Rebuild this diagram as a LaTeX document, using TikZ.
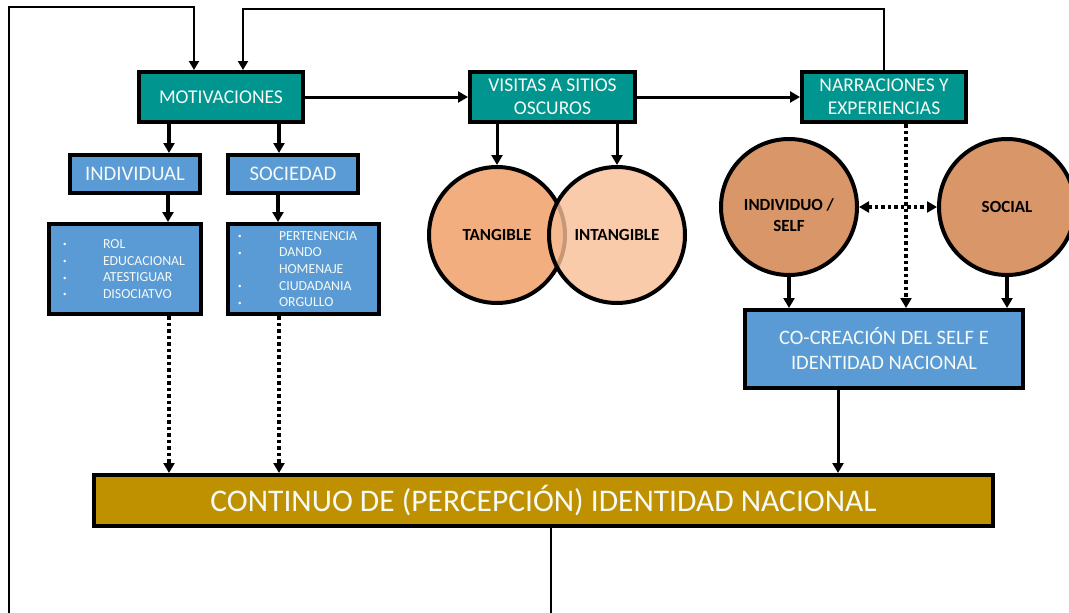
\documentclass[tikz,border=0pt]{standalone}
\usepackage{fontspec}
\setmainfont{Carlito}
\usetikzlibrary{arrows.meta}
\definecolor{tealbox}{RGB}{0,150,143}
\definecolor{bluebox}{RGB}{91,155,213}
\definecolor{goldbox}{RGB}{191,144,0}
\definecolor{tanfill}{RGB}{243,174,127}
\definecolor{intfill}{RGB}{247,190,150}
\definecolor{selffill}{RGB}{217,150,104}
\definecolor{boxtext}{RGB}{245,250,245}
\newcommand{\lbul}{\raisebox{1.5pt}{\fontsize{7}{7}\selectfont •}}
\begin{document}
\begin{tikzpicture}[x=1pt,y=-1pt,
  box/.style={draw=black,line width=4pt,text=boxtext,align=center,inner sep=0pt,
    font=\fontsize{19.5}{23}\selectfont},
  tealb/.style={box,fill=tealbox},
  blueb/.style={box,fill=bluebox},
  listb/.style={draw=black,line width=4pt,fill=bluebox,text=boxtext,align=left,inner sep=0pt,
    font=\fontsize{13.8}{16.7}\selectfont},
  circfont/.style={font=\bfseries\fontsize{17}{21}\selectfont},
  circ/.style={circle,draw=black,line width=4pt,inner sep=0pt,minimum size=136pt,
    circfont,align=center},
  arr/.style={-{Triangle[width=11pt,length=10pt]},line width=3.5pt},
  marr/.style={-{Triangle[width=11pt,length=10pt]},line width=3pt},
  thinarr/.style={-{Triangle[width=10pt,length=9pt]},line width=2.3pt},
  dotarr/.style={-{Triangle[width=11pt,length=10pt]},line width=4pt,dash pattern=on 3.5pt off 3pt},
  dotboth/.style={{Triangle[width=11pt,length=10pt]}-{Triangle[width=11pt,length=10pt]},line width=4pt,dash pattern=on 3.5pt off 3pt}
]
\useasboundingbox (0,0) rectangle (1069,613);
\clip (0,0) rectangle (1069,613);

% top boxes
\node[tealb,minimum width=164pt,minimum height=50pt] (mot) at (221,97) {MOTIVACIONES};
\node[tealb,minimum width=165pt,minimum height=50pt] (vis) at (552.5,97) {VISITAS A SITIOS\\OSCUROS};
\node[tealb,minimum width=164pt,minimum height=50pt] (nar) at (884,97) {NARRACIONES Y\\EXPERIENCIAS};

% second row
\node[blueb,minimum width=130pt,minimum height=38pt,font=\fontsize{20.7}{23}\selectfont] (ind) at (135,174) {INDIVIDUAL};
\node[blueb,minimum width=130pt,minimum height=38pt,font=\fontsize{20.7}{23}\selectfont] (soc) at (293,174) {SOCIEDAD};

% lists
\node[listb,minimum width=152pt,minimum height=90pt,text width=152pt] (indl) at (125,269)
  {\hspace*{14pt}\makebox[40pt][l]{\lbul}ROL\\
   \hspace*{14pt}\makebox[40pt][l]{\lbul}EDUCACIONAL\\
   \hspace*{14pt}\makebox[40pt][l]{\lbul}ATESTIGUAR\\
   \hspace*{14pt}\makebox[40pt][l]{\lbul}DISOCIATVO};
\node[listb,minimum width=151pt,minimum height=90pt,text width=151pt] (socl) at (303.5,269)
  {\hspace*{10pt}\makebox[41pt][l]{\lbul}PERTENENCIA\\
   \hspace*{10pt}\makebox[41pt][l]{\lbul}DANDO\\
   \hspace*{10pt}\makebox[41pt][l]{}HOMENAJE\\
   \hspace*{10pt}\makebox[41pt][l]{\lbul}CIUDADANIA\\
   \hspace*{10pt}\makebox[41pt][l]{\lbul}ORGULLO};

% circles
\node[circ,fill=tanfill] (tan) at (497,235) {TANGIBLE};
\node[circ,fill=intfill,fill opacity=0.8,text opacity=1] (int) at (617,235) {INTANGIBLE};
\node[circ,fill=selffill,label={[circfont,align=center,yshift=-8pt]center:INDIVIDUO /\\SELF}] (indv) at (789,207) {};
\node[circ,fill=selffill] (soci) at (1007,207) {SOCIAL};

% lower boxes
\node[blueb,minimum width=278pt,minimum height=78pt,font=\fontsize{20.5}{25}\selectfont] (coc) at (884,349) {CO-CREACIÓN DEL SELF E\\IDENTIDAD NACIONAL};
\node[box,fill=goldbox,minimum width=899pt,minimum height=51pt,font=\fontsize{31.5}{36}\selectfont] (con) at (543.5,500.5) {CONTINUO DE (PERCEPCIÓN) IDENTIDAD NACIONAL};

% connectors
\draw[arr] (mot.south -| 169,0) -- (ind.north -| 169,0);
\draw[arr] (mot.south -| 279,0) -- (soc.north -| 279,0);
\draw[arr] (ind.south -| 168,0) -- (indl.north -| 168,0);
\draw[arr] (soc.south -| 278,0) -- (socl.north -| 278,0);
\draw[dotarr] (indl.south -| 169,0) -- (con.north -| 169,0);
\draw[dotarr] (socl.south -| 279,0) -- (con.north -| 279,0);
\draw[marr] (mot.east) -- (vis.west);
\draw[marr] (vis.east) -- (nar.west);
\draw[marr] (vis.south -| tan.north) -- (tan.north);
\draw[marr] (vis.south -| int.north) -- (int.north);
\draw[dotarr] (nar.south -| 906,0) -- (coc.north -| 906,0);
\draw[dotboth] (indv.east) -- (soci.west);
\draw[arr] (indv.south) -- (coc.north -| indv.south);
\draw[arr] (soci.south) -- (coc.north -| soci.south);
\draw[marr] (coc.south -| 838,0) -- (con.north -| 838,0);

% feedback loops
\coordinate (fb1) at (9,613);
\coordinate (t1) at (194,7);
\coordinate (t2) at (243,9);
\coordinate (fb2) at (551,613);
\draw[thinarr] (fb1) |- (t1) -- (mot.north -| t1);
\draw[thinarr] (nar.north) |- (t2) -- (mot.north -| t2);
\draw[line width=2.3pt] (con.south -| fb2) -- (fb2);
\end{tikzpicture}
\end{document}
